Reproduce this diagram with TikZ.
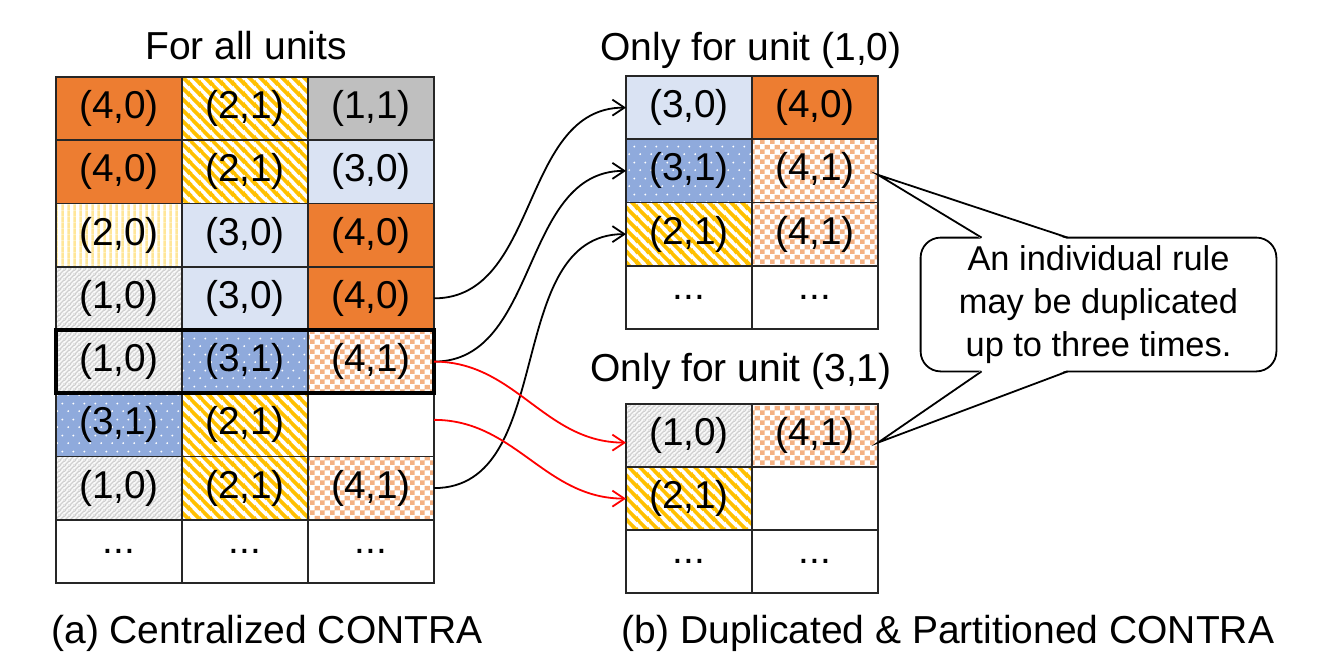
\documentclass[tikz,border=0pt]{standalone}
\usepackage{fontspec}
\setmainfont{Liberation Sans}
\usetikzlibrary{patterns,patterns.meta,arrows.meta,calc}

\definecolor{corange}{HTML}{ED7D31}
\definecolor{clblue}{HTML}{DAE3F3}
\definecolor{cgray}{HTML}{BFBFBF}
\definecolor{cgold}{HTML}{FFC000}
\definecolor{cpaley}{HTML}{FFE699}
\definecolor{cblue}{HTML}{8FAADC}
\definecolor{cpeach}{HTML}{F4B183}
\definecolor{cline}{HTML}{262626}
\definecolor{chatch}{HTML}{D0D0D0}

\tikzdeclarepattern{
  name=golddiag, type=colored,
  bounding box={(0pt,0pt) and (5.6pt,5.6pt)},
  tile size={(5.6pt,5.6pt)},
  code={\draw[cgold, line width=1.9pt] (-1pt,6.6pt) -- (6.6pt,-1pt) (-1pt,1pt) -- (1pt,-1pt) (4.6pt,6.6pt) -- (6.6pt,4.6pt);}
}
\tikzdeclarepattern{
  name=paleV, type=colored,
  bounding box={(0pt,0pt) and (3pt,3pt)},
  tile size={(3pt,3pt)},
  code={\fill[cpaley] (0.75pt,-0.2pt) rectangle (2.25pt,3.2pt);}
}
\tikzdeclarepattern{
  name=grayD, type=colored,
  bounding box={(0pt,0pt) and (2.5pt,2.5pt)},
  tile size={(2.5pt,2.5pt)},
  code={\draw[chatch, line width=0.8pt] (-0.5pt,-0.5pt) -- (3pt,3pt) (-0.5pt,2pt) -- (0.5pt,3pt) (2pt,-0.5pt) -- (3pt,0.5pt);}
}
\tikzdeclarepattern{
  name=wdots, type=colored,
  bounding box={(0pt,0pt) and (5.5pt,8pt)},
  tile size={(5.5pt,8pt)},
  code={\fill[white] (1.2pt,2pt) circle (0.55pt) (3.95pt,6pt) circle (0.55pt);}
}
\tikzdeclarepattern{
  name=peachcheck, type=colored,
  bounding box={(0pt,0pt) and (5pt,5pt)},
  tile size={(5pt,5pt)},
  code={\fill[cpeach] (0pt,0pt) rectangle (2.5pt,2.5pt) (2.5pt,2.5pt) rectangle (5pt,5pt);}
}

\newcommand\mycellfont{\fontsize{19.4pt}{22pt}\selectfont}
\newcommand\mytitlefont{\fontsize{19.5pt}{23pt}\selectfont}
\newcommand\mycallfont{\fontsize{17.2pt}{21.5pt}\selectfont}

\tikzset{
  cell/.style={draw=cline, line width=0.9pt, minimum width=63pt, minimum height=31.6pt,
    inner sep=0pt, outer sep=0pt, anchor=north west, font=\mycellfont},
  sOr/.style={fill=corange},
  sLb/.style={fill=clblue},
  sGy/.style={fill=cgray},
  sWh/.style={fill=white},
  sGd/.style={preaction={fill=white}, pattern=golddiag},
  sPv/.style={preaction={fill=white}, pattern=paleV},
  sGr/.style={preaction={fill=gray!5}, pattern=grayD},
  sBd/.style={preaction={fill=cblue}, pattern=wdots},
  sCk/.style={preaction={fill=white}, pattern=peachcheck},
  ttl/.style={font=\mytitlefont, anchor=base, inner sep=0pt},
  arr/.style={line width=0.9pt, -{Straight Barb[length=6pt,width=8pt,line width=0.9pt]}},
  rarr/.style={arr, red},
}

\begin{document}
\begin{tikzpicture}[x=0.5pt,y=-0.5pt]
\useasboundingbox (0,0) rectangle (1328,654);

% titles
\node[ttl] (t1) at (246,59) {For all units};
\node[ttl] (t2) at (751,60) {Only for unit (1,0)};
\node[ttl] (t3) at (741,381) {Only for unit (3,1)};
\node[ttl] (c1) at (267,643) {(a) Centralized CONTRA};
\node[ttl] (c2) at (948,643) {(b) Duplicated \& Partitioned CONTRA};

% left table
\node[cell,sOr] (L11) at (56,77) {(4,0)};
\node[cell,sGd] (L12) at (182,77) {(2,1)};
\node[cell,sGy] (L13) at (308,77) {(1,1)};
\node[cell,sOr] (L21) at (56,140.25) {(4,0)};
\node[cell,sGd] (L22) at (182,140.25) {(2,1)};
\node[cell,sLb] (L23) at (308,140.25) {(3,0)};
\node[cell,sPv] (L31) at (56,203.5) {(2,0)};
\node[cell,sLb] (L32) at (182,203.5) {(3,0)};
\node[cell,sOr] (L33) at (308,203.5) {(4,0)};
\node[cell,sGr] (L41) at (56,266.75) {(1,0)};
\node[cell,sLb] (L42) at (182,266.75) {(3,0)};
\node[cell,sOr] (L43) at (308,266.75) {(4,0)};
\node[cell,sGr] (L51) at (56,330) {(1,0)};
\node[cell,sBd] (L52) at (182,330) {(3,1)};
\node[cell,sCk] (L53) at (308,330) {(4,1)};
\node[cell,sBd] (L61) at (56,393.25) {(3,1)};
\node[cell,sGd] (L62) at (182,393.25) {(2,1)};
\node[cell,sWh] (L63) at (308,393.25) {};
\node[cell,sGr] (L71) at (56,456.5) {(1,0)};
\node[cell,sGd] (L72) at (182,456.5) {(2,1)};
\node[cell,sCk] (L73) at (308,456.5) {(4,1)};
\node[cell,sWh] (L81) at (56,519.75) {...};
\node[cell,sWh] (L82) at (182,519.75) {...};
\node[cell,sWh] (L83) at (308,519.75) {...};
\draw[line width=2.2pt] (L51.north west) rectangle (L53.south east);

% upper right table
\node[cell,sLb] (U11) at (626,76) {(3,0)};
\node[cell,sOr] (U12) at (752,76) {(4,0)};
\node[cell,sBd] (U21) at (626,139.25) {(3,1)};
\node[cell,sCk] (U22) at (752,139.25) {(4,1)};
\node[cell,sGd] (U31) at (626,202.5) {(2,1)};
\node[cell,sCk] (U32) at (752,202.5) {(4,1)};
\node[cell,sWh] (U41) at (626,265.75) {...};
\node[cell,sWh] (U42) at (752,265.75) {...};

% lower right table
\node[cell,sGr] (D11) at (626,404) {(1,0)};
\node[cell,sCk] (D12) at (752,404) {(4,1)};
\node[cell,sGd] (D21) at (626,467) {(2,1)};
\node[cell,sWh] (D22) at (752,467) {};
\node[cell,sWh] (D31) at (626,530) {...};
\node[cell,sWh] (D32) at (752,530) {...};

% connectors
\draw[arr] (L43.east) to[out=0,in=180] (U11.west);
\draw[arr] (L53.east) to[out=0,in=180] (U21.west);
\draw[arr] (L73.east) to[out=0,in=180] (U31.west);
\draw[rarr] (L53.east) to[out=0,in=180] ([yshift=-3.5pt]D11.west);
\draw[rarr] ([yshift=2.5pt]L63.east) to[out=0,in=180] (D21.west);

% callout
\node[minimum width=177.5pt, minimum height=66.5pt, inner sep=0pt] (call) at (1098.5,304.5) {};
\coordinate (tipA) at ([yshift=-2pt]U22.east);
\coordinate (tipB) at ([yshift=-3.5pt]D12.east);
\draw[line width=0.9pt, fill=white, rounded corners=10pt] (call.north west) rectangle (call.south east);
\node[font=\mycallfont, align=center, inner sep=0pt] (calltext) at (call.center) {An individual rule\\may be duplicated\\up to three times.};
\coordinate (a1) at ($(call.north west)+(61,1.5)$);
\coordinate (a2) at ($(call.north west)+(147,1.5)$);
\coordinate (b1) at ($(call.south west)+(61,-1.5)$);
\coordinate (b2) at ($(call.south west)+(147,-1.5)$);
\fill[white] (a1) -- (tipA) -- (a2) -- cycle;
\fill[white] (b1) -- (tipB) -- (b2) -- cycle;
\draw[line width=0.9pt, line join=miter] ($(a1)+(0,-1.5)$) -- (tipA) -- ($(a2)+(0,-1.5)$);
\draw[line width=0.9pt, line join=miter] ($(b1)+(0,1.5)$) -- (tipB) -- ($(b2)+(0,1.5)$);
\end{tikzpicture}
\end{document}
